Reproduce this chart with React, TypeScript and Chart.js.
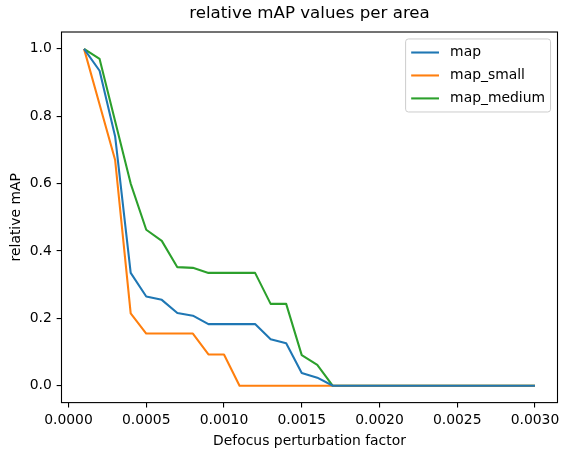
import React, { useEffect, useRef } from 'react';
import { Chart, registerables } from 'chart.js';

Chart.register(...registerables);

const FONT = 'DejaVu Sans';

const xValues = [
  0.0001, 0.0002, 0.0003, 0.0004, 0.0005, 0.0006, 0.0007, 0.0008, 0.0009, 0.0010,
  0.0011, 0.0012, 0.0013, 0.0014, 0.0015, 0.0016, 0.0017, 0.0018, 0.0019, 0.0020,
  0.0021, 0.0022, 0.0023, 0.0024, 0.0025, 0.0026, 0.0027, 0.0028, 0.0029, 0.0030,
];

const mapValues = [
  1.0, 0.935, 0.74, 0.335, 0.265, 0.255, 0.216, 0.208, 0.183, 0.183,
  0.183, 0.183, 0.138, 0.126, 0.038, 0.024, 0, 0, 0, 0,
  0, 0, 0, 0, 0, 0, 0, 0, 0, 0,
];

const mapSmallValues = [
  1.0, 0.835, 0.67, 0.215, 0.155, 0.155, 0.155, 0.155, 0.093, 0.093,
  0, 0, 0, 0, 0, 0, 0, 0, 0, 0,
  0, 0, 0, 0, 0, 0, 0, 0, 0, 0,
];

const mapMediumValues = [
  1.0, 0.97, 0.785, 0.6, 0.463, 0.43, 0.352, 0.35, 0.335, 0.335,
  0.335, 0.335, 0.243, 0.243, 0.091, 0.062, 0, 0, 0, 0,
  0, 0, 0, 0, 0, 0, 0, 0, 0, 0,
];

const xTicks = [0, 0.0005, 0.001, 0.0015, 0.002, 0.0025, 0.003];
const yTicks = [0, 0.2, 0.4, 0.6, 0.8, 1.0];

const seriesNames = ['map', 'map_small', 'map_medium'];
const seriesColors = ['#1f77b4', '#ff7f0e', '#2ca02c'];
const seriesValues = [mapValues, mapSmallValues, mapMediumValues];

const titleText = 'relative mAP values per area';
const xTitle = 'Defocus perturbation factor';
const yTitle = 'relative mAP';

const framePlugin = {
  id: 'mplFrame',
  afterDatasetsDraw(chart: any) {
    const { ctx, chartArea } = chart;
    ctx.save();
    ctx.strokeStyle = '#000';
    ctx.lineWidth = 1.1;
    ctx.strokeRect(chartArea.left, chartArea.top, chartArea.right - chartArea.left, chartArea.bottom - chartArea.top);
    ctx.restore();

    // legend (matplotlib style, upper right)
    const fs = 13.9;
    const borderPad = 0.4 * fs;
    const handleLen = 2.0 * fs;
    const handlePad = 0.8 * fs;
    const labelSpacing = 0.5 * fs;
    const rowH = 16;
    const axPad = 0.5 * fs;
    ctx.save();
    ctx.font = `${fs}px "${FONT}"`;
    let maxW = 0;
    seriesNames.forEach((n) => {
      maxW = Math.max(maxW, ctx.measureText(n).width);
    });
    const w = borderPad * 2 + handleLen + handlePad + maxW;
    const h = borderPad * 2 + rowH * seriesNames.length + labelSpacing * (seriesNames.length - 1);
    const right = chartArea.right - axPad;
    const top = chartArea.top + axPad;
    const left = right - w;
    const r = 2.8;
    ctx.beginPath();
    ctx.moveTo(left + r, top);
    ctx.lineTo(right - r, top);
    ctx.quadraticCurveTo(right, top, right, top + r);
    ctx.lineTo(right, top + h - r);
    ctx.quadraticCurveTo(right, top + h, right - r, top + h);
    ctx.lineTo(left + r, top + h);
    ctx.quadraticCurveTo(left, top + h, left, top + h - r);
    ctx.lineTo(left, top + r);
    ctx.quadraticCurveTo(left, top, left + r, top);
    ctx.closePath();
    ctx.fillStyle = 'rgba(255,255,255,0.8)';
    ctx.fill();
    ctx.strokeStyle = '#cccccc';
    ctx.lineWidth = 1;
    ctx.stroke();
    seriesNames.forEach((name, i) => {
      const cy = top + borderPad + rowH / 2 + i * (rowH + labelSpacing);
      ctx.strokeStyle = seriesColors[i];
      ctx.lineWidth = 2.08;
      ctx.beginPath();
      ctx.moveTo(left + borderPad, cy);
      ctx.lineTo(left + borderPad + handleLen, cy);
      ctx.stroke();
      ctx.fillStyle = '#000';
      ctx.textBaseline = 'middle';
      ctx.textAlign = 'left';
      ctx.fillText(name, left + borderPad + handleLen + handlePad, cy);
    });
    ctx.restore();
  },
};

export default function App() {
  const canvasRef = useRef<HTMLCanvasElement | null>(null);

  useEffect(() => {
    const canvas = canvasRef.current;
    if (!canvas) return;
    const datasets = seriesNames.map((name, i) => ({
      label: name,
      data: xValues.map((x, j) => ({ x, y: seriesValues[i][j] })),
      borderColor: seriesColors[i],
      backgroundColor: seriesColors[i],
      borderWidth: 2.08,
      pointRadius: 0,
      tension: 0,
      fill: false,
      borderJoinStyle: 'round' as const,
    }));
    const chart = new Chart(canvas, {
      type: 'line',
      data: { datasets },
      options: {
        animation: false,
        responsive: false,
        devicePixelRatio: 1,
        layout: { padding: { left: 0, right: 10.5, top: 0, bottom: 0 } },
        plugins: {
          legend: { display: false },
          tooltip: { enabled: false },
          title: {
            display: true,
            text: titleText,
            fullSize: false,
            color: '#000',
            font: { family: FONT, size: 16.67, weight: 'normal' },
            padding: { top: 4, bottom: 8 },
          },
        },
        scales: {
          x: {
            type: 'linear',
            min: -0.000045,
            max: 0.003145,
            afterBuildTicks: (s: any) => {
              s.ticks = xTicks.map((v) => ({ value: v }));
            },
            afterFit: (s: any) => {
              s.height = 52.4;
            },
            ticks: {
              autoSkip: false,
              maxRotation: 0,
              minRotation: 0,
              padding: 4.86,
              color: '#000',
              font: { family: FONT, size: 13.9 },
              callback: (v: any) => Number(v).toFixed(4),
            },
            grid: {
              drawOnChartArea: false,
              drawTicks: true,
              tickLength: 4.86,
              color: '#000',
              tickColor: '#000',
              lineWidth: 1.1,
            },
            border: { display: false },
            title: {
              display: true,
              text: xTitle,
              color: '#000',
              font: { family: FONT, size: 13.9 },
              padding: { top: 0, bottom: 5 },
            },
          },
          y: {
            type: 'linear',
            min: -0.05,
            max: 1.05,
            afterBuildTicks: (s: any) => {
              s.ticks = yTicks.map((v) => ({ value: v }));
            },
            afterFit: (s: any) => {
              s.width = 61.5;
            },
            ticks: {
              autoSkip: false,
              padding: 4.86,
              color: '#000',
              font: { family: FONT, size: 13.9 },
              callback: (v: any) => Number(v).toFixed(1),
            },
            grid: {
              drawOnChartArea: false,
              drawTicks: true,
              tickLength: 4.86,
              color: '#000',
              tickColor: '#000',
              lineWidth: 1.1,
            },
            border: { display: false },
            title: {
              display: true,
              text: yTitle,
              color: '#000',
              font: { family: FONT, size: 13.9 },
              padding: { top: 8, bottom: 0 },
            },
          },
        },
      },
      plugins: [framePlugin],
    });
    return () => chart.destroy();
  }, []);

  return (
    <div style={{ position: 'absolute', left: 0, top: 0, width: 568, height: 455, background: '#fff' }}>
      <canvas ref={canvasRef} width={568} height={455} style={{ display: 'block' }} />
    </div>
  );
}
